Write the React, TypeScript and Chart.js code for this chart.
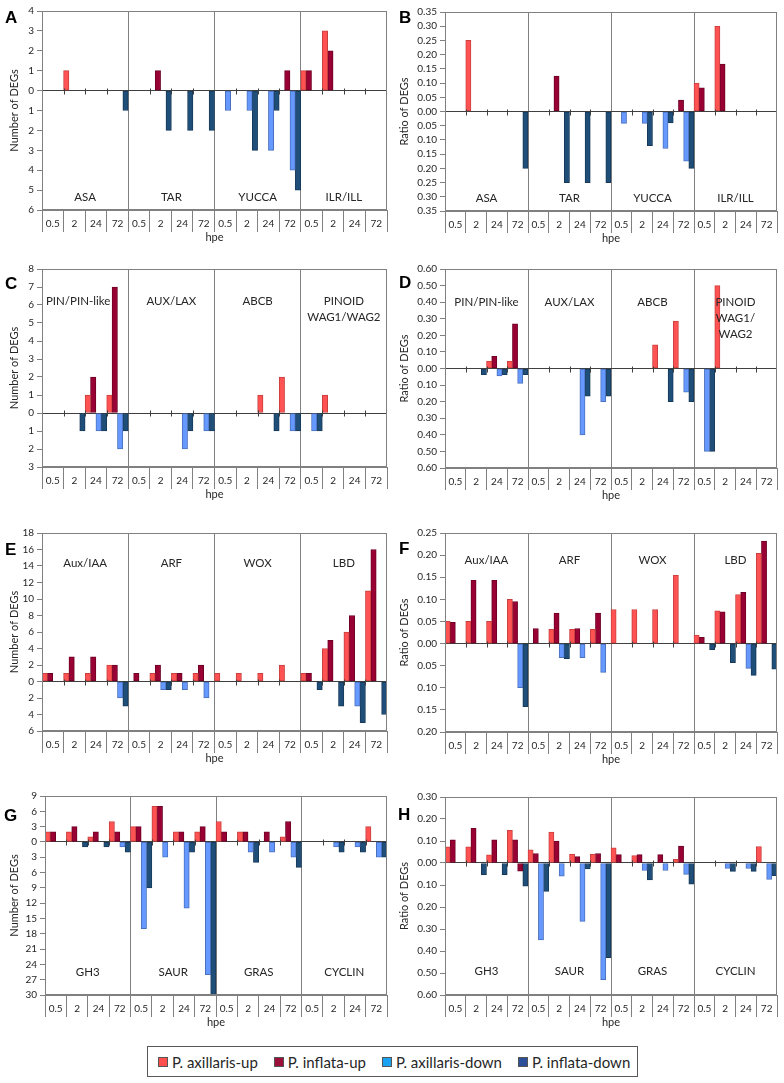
import { useEffect, useRef } from 'react';
import { Chart, registerables } from 'chart.js';

Chart.register(...registerables);
Chart.defaults.font.family = 'Lato, "Open Sans", sans-serif';

// Sampling times (hours post excision), repeated for every gene family
const HPE = ['0.5', '2', '24', '72'];

// ---- A: auxin biosynthesis, number of DEGs ----
const A_FAMILIES = ['ASA', 'TAR', 'YUCCA', 'ILR/ILL'];
const A_AX_UP = [0, 1, 0, 0, 0, 0, 0, 0, 0, 0, 0, 0, 1, 3, 0, 0];
const A_INF_UP = [0, 0, 0, 0, 0, 1, 0, 0, 0, 0, 0, 1, 1, 2, 0, 0];
const A_AX_DOWN = [0, 0, 0, 0, 0, 0, 0, 0, -1, -1, -3, -4, 0, 0, 0, 0];
const A_INF_DOWN = [0, 0, 0, -1, 0, -2, -2, -2, 0, -3, -1, -5, 0, 0, 0, 0];

// ---- B: auxin biosynthesis, ratio of DEGs ----
const B_AX_UP = [0, 0.25, 0, 0, 0, 0, 0, 0, 0, 0, 0, 0, 0.1, 0.3, 0, 0];
const B_INF_UP = [0, 0, 0, 0, 0, 0.125, 0, 0, 0, 0, 0, 0.04, 0.083, 0.167, 0, 0];
const B_AX_DOWN = [0, 0, 0, 0, 0, 0, 0, 0, -0.042, -0.042, -0.13, -0.175, 0, 0, 0, 0];
const B_INF_DOWN = [0, 0, 0, -0.2, 0, -0.25, -0.25, -0.25, 0, -0.12, -0.04, -0.2, 0, 0, 0, 0];

// ---- C: auxin transport, number of DEGs ----
const C_FAMILIES = ['PIN/PIN-like', 'AUX/LAX', 'ABCB', ['PINOID', 'WAG1/WAG2']];
const C_AX_UP = [0, 0, 1, 1, 0, 0, 0, 0, 0, 0, 1, 2, 0, 1, 0, 0];
const C_INF_UP = [0, 0, 2, 7, 0, 0, 0, 0, 0, 0, 0, 0, 0, 0, 0, 0];
const C_AX_DOWN = [0, 0, -1, -2, 0, 0, -2, -1, 0, 0, 0, -1, -1, 0, 0, 0];
const C_INF_DOWN = [0, -1, -1, -1, 0, 0, -1, -1, 0, 0, -1, -1, -1, 0, 0, 0];

// ---- D: auxin transport, ratio of DEGs ----
const D_FAMILIES = ['PIN/PIN-like', 'AUX/LAX', 'ABCB', ['PINOID', 'WAG1/', 'WAG2']];
const D_AX_UP = [0, 0, 0.045, 0.045, 0, 0, 0, 0, 0, 0, 0.143, 0.286, 0, 0.5, 0, 0];
const D_INF_UP = [0, 0, 0.074, 0.27, 0, 0, 0, 0, 0, 0, 0, 0, 0, 0, 0, 0];
const D_AX_DOWN = [0, 0, -0.045, -0.09, 0, 0, -0.4, -0.2, 0, 0, 0, -0.143, -0.5, 0, 0, 0];
const D_INF_DOWN = [0, -0.037, -0.037, -0.037, 0, 0, -0.167, -0.167, 0, 0, -0.2, -0.2, -0.5, 0, 0, 0];

// ---- E: transcription factors, number of DEGs ----
const E_FAMILIES = ['Aux/IAA', 'ARF', 'WOX', 'LBD'];
const E_AX_UP = [1, 1, 1, 2, 0, 1, 1, 1, 1, 1, 1, 2, 1, 4, 6, 11];
const E_INF_UP = [1, 3, 3, 2, 1, 2, 1, 2, 0, 0, 0, 0, 1, 5, 8, 16];
const E_AX_DOWN = [0, 0, 0, -2, 0, -1, -1, -2, 0, 0, 0, 0, 0, 0, -3, 0];
const E_INF_DOWN = [0, 0, 0, -3, 0, -1, 0, 0, 0, 0, 0, 0, -1, -3, -5, -4];

// ---- F: transcription factors, ratio of DEGs ----
const F_AX_UP = [0.05, 0.05, 0.05, 0.1, 0, 0.032, 0.032, 0.032, 0.077, 0.077, 0.077, 0.154, 0.019, 0.074, 0.111, 0.204];
const F_INF_UP = [0.048, 0.143, 0.143, 0.095, 0.034, 0.069, 0.034, 0.069, 0, 0, 0, 0, 0.014, 0.072, 0.116, 0.232];
const F_AX_DOWN = [0, 0, 0, -0.1, 0, -0.032, -0.032, -0.065, 0, 0, 0, 0, 0, 0, -0.056, 0];
const F_INF_DOWN = [0, 0, 0, -0.143, 0, -0.034, 0, 0, 0, 0, 0, 0, -0.014, -0.043, -0.072, -0.058];

// ---- G: auxin-responsive genes, number of DEGs ----
const G_FAMILIES = ['GH3', 'SAUR', 'GRAS', 'CYCLIN'];
const G_AX_UP = [2, 2, 1, 4, 3, 7, 2, 2, 4, 2, 0, 1, 0, 0, 0, 3];
const G_INF_UP = [2, 3, 2, 2, 3, 7, 2, 3, 2, 2, 2, 4, 0, 0, 0, 0];
const G_AX_DOWN = [0, 0, 0, -1, -17, -3, -13, -26, 0, -2, -2, -3, 0, -1, -1, -3];
const G_INF_DOWN = [0, -1, -1, -2, -9, 0, -2, -30, 0, -4, 0, -5, 0, -2, -2, -3];

// ---- H: auxin-responsive genes, ratio of DEGs ----
const H_AX_UP = [0.074, 0.074, 0.037, 0.148, 0.06, 0.14, 0.04, 0.04, 0.069, 0.034, 0, 0.017, 0, 0, 0, 0.075];
const H_INF_UP = [0.105, 0.158, 0.105, 0.105, 0.043, 0.1, 0.029, 0.043, 0.038, 0.038, 0.038, 0.077, 0, 0, 0, 0];
const H_AX_DOWN = [0, 0, 0, -0.037, -0.35, -0.06, -0.265, -0.53, 0, -0.034, -0.034, -0.052, 0, -0.025, -0.025, -0.075];
const H_INF_DOWN = [0, -0.053, -0.053, -0.105, -0.129, 0, -0.027, -0.43, 0, -0.077, 0, -0.096, 0, -0.038, -0.038, -0.058];

// Series styling and legend
const SERIES = [
  { label: 'P. axillaris-up', fill: '#FF5252', stroke: '#C9403F', key: '#FF4F4F' },
  { label: 'P. inflata-up', fill: '#990033', stroke: '#6E0024', key: '#9B0F3A' },
  { label: 'P. axillaris-down', fill: '#6699FF', stroke: '#4A70BC', key: '#1BA1F2' },
  { label: 'P. inflata-down', fill: '#1F4E79', stroke: '#173A5A', key: '#2B4F99' },
];

const FRAME = '#808080';
const ZERO_LINE = '#3f3f3f';
const TEXT = '#262626';

type Family = string | string[];

interface PanelSpec {
  letter: string;
  families: Family[];
  values: number[][];
  min: number;
  max: number;
  step: number;
  decimals: number;
  yTitle: string;
  colLeft: number;
  plotTop: number;
  plotHeight: number;
  axisWidth: number;
  padRight: number;
  titlePad: number;
  familyY: number;
  familyDx?: number[];
  letterX: number;
  letterY: number;
  recolor?: { series: number; index: number; color: string }[];
}

const LEFT = { colLeft: 0, axisWidth: 42, padRight: 5, titlePad: 8, letterX: 5 };
const RIGHT = { colLeft: 392, axisWidth: 53, padRight: 7, titlePad: 6, letterX: 399 };

const PANELS: PanelSpec[] = [
  { ...LEFT, letter: 'A', families: A_FAMILIES, values: [A_AX_UP, A_INF_UP, A_AX_DOWN, A_INF_DOWN],
    min: -6, max: 4, step: 1, decimals: 0, yTitle: 'Number of DEGs', plotTop: 10, plotHeight: 200, familyY: 186, letterY: 9 },
  { ...RIGHT, letter: 'B', families: A_FAMILIES, values: [B_AX_UP, B_INF_UP, B_AX_DOWN, B_INF_DOWN],
    min: -0.35, max: 0.35, step: 0.05, decimals: 2, yTitle: 'Ratio of DEGs', plotTop: 11, plotHeight: 200, familyY: 186, letterY: 9 },
  { ...LEFT, letter: 'C', families: C_FAMILIES, values: [C_AX_UP, C_INF_UP, C_AX_DOWN, C_INF_DOWN],
    min: -3, max: 8, step: 1, decimals: 0, yTitle: 'Number of DEGs', plotTop: 268, plotHeight: 199, familyY: 32,
    familyDx: [-7, 0, 0, 0], letterY: 275 },
  { ...RIGHT, letter: 'D', families: D_FAMILIES, values: [D_AX_UP, D_INF_UP, D_AX_DOWN, D_INF_DOWN],
    min: -0.6, max: 0.6, step: 0.1, decimals: 2, yTitle: 'Ratio of DEGs', plotTop: 268, plotHeight: 200, familyY: 33, letterY: 274 },
  { ...LEFT, letter: 'E', families: E_FAMILIES, values: [E_AX_UP, E_INF_UP, E_AX_DOWN, E_INF_DOWN],
    min: -6, max: 18, step: 2, decimals: 0, yTitle: 'Number of DEGs', plotTop: 532, plotHeight: 199, familyY: 30, letterY: 541 },
  { ...RIGHT, letter: 'F', families: E_FAMILIES, values: [F_AX_UP, F_INF_UP, F_AX_DOWN, F_INF_DOWN],
    min: -0.2, max: 0.25, step: 0.05, decimals: 2, yTitle: 'Ratio of DEGs', plotTop: 532, plotHeight: 200, familyY: 27, letterY: 540 },
  { ...LEFT, axisWidth: 45, letterX: 4, letter: 'G', families: G_FAMILIES, values: [G_AX_UP, G_INF_UP, G_AX_DOWN, G_INF_DOWN],
    min: -30, max: 9, step: 3, decimals: 0, yTitle: 'Number of DEGs', plotTop: 795, plotHeight: 200, familyY: 176, letterY: 807 },
  { ...RIGHT, letterX: 398, letter: 'H', families: G_FAMILIES, values: [H_AX_UP, H_INF_UP, H_AX_DOWN, H_INF_DOWN],
    min: -0.6, max: 0.3, step: 0.1, decimals: 2, yTitle: 'Ratio of DEGs', plotTop: 796, plotHeight: 199, familyY: 174, letterY: 806,
    recolor: [{ series: 2, index: 3, color: '#990033' }] },
];

const PAD_TOP = 8;
const X_AXIS_HEIGHT = 40;
const PAD_BOTTOM = 4;

// Frame, zero-line cross ticks and gene-family captions
const panelDecor = {
  id: 'panelDecor',
  afterDatasetsDraw(chart: any, _args: any, opts: any) {
    const { ctx, chartArea: a } = chart;
    const x = chart.scales.x;
    const y = chart.scales.y;
    ctx.save();
    ctx.lineWidth = 1;

    const y0 = Math.round(y.getPixelForValue(0)) + 0.5;
    const n = chart.data.labels.length;
    ctx.strokeStyle = ZERO_LINE;
    ctx.beginPath();
    for (let i = 1; i < n; i++) {
      if (i % 4 === 0) continue;
      const px = Math.round((x.getPixelForValue(i - 1) + x.getPixelForValue(i)) / 2) + 0.5;
      ctx.moveTo(px, y0 - 3);
      ctx.lineTo(px, y0 + 3);
    }
    ctx.stroke();

    ctx.strokeStyle = FRAME;
    const l = Math.round(a.left) + 0.5;
    const t = Math.round(a.top) + 0.5;
    const r = Math.round(a.right) - 0.5;
    const b = Math.round(a.bottom) - 0.5;
    ctx.strokeRect(l, t, r - l, b - t);

    ctx.fillStyle = TEXT;
    ctx.font = '11.5px Lato, "Open Sans", sans-serif';
    ctx.textAlign = 'center';
    ctx.textBaseline = 'middle';
    (opts.families as Family[]).forEach((fam, f) => {
      const dx = opts.familyDx ? opts.familyDx[f] : 0;
      const cx = (x.getPixelForValue(f * 4) + x.getPixelForValue(f * 4 + 3)) / 2 + dx;
      const lines = Array.isArray(fam) ? fam : [fam];
      lines.forEach((line, k) => ctx.fillText(line, cx, a.top + opts.familyY + k * 16));
    });
    ctx.restore();
  },
};

function PanelChart({ spec }: { spec: PanelSpec }) {
  const ref = useRef<HTMLCanvasElement | null>(null);
  const height = PAD_TOP + spec.plotHeight + X_AXIS_HEIGHT + PAD_BOTTOM;

  useEffect(() => {
    if (!ref.current) return;
    const labels = spec.families.flatMap(() => HPE);
    const chart = new Chart(ref.current, {
      type: 'bar',
      data: {
        labels,
        datasets: SERIES.map((s, k) => {
          const overrides = (spec.recolor || []).filter((o) => o.series === k);
          return {
            label: s.label,
            data: spec.values[k].map((v) => (v === 0 ? null : v)),
            backgroundColor: overrides.length
              ? (c: any) => overrides.find((o) => o.index === c.dataIndex)?.color ?? s.fill
              : s.fill,
            borderColor: overrides.length
              ? (c: any) => (overrides.find((o) => o.index === c.dataIndex) ? '#6E0024' : s.stroke)
              : s.stroke,
            borderWidth: 1,
            borderSkipped: false,
            barPercentage: 1,
            categoryPercentage: 1,
          };
        }),
      },
      options: {
        responsive: false,
        animation: false,
        devicePixelRatio: 1,
        layout: { padding: { top: PAD_TOP, left: 0, right: spec.padRight, bottom: PAD_BOTTOM } },
        plugins: {
          legend: { display: false },
          tooltip: { enabled: false },
          panelDecor: { families: spec.families, familyY: spec.familyY, familyDx: spec.familyDx },
        } as any,
        scales: {
          x: {
            offset: true,
            grid: {
              offset: true,
              color: (c: any) => (c.index !== undefined && c.index % 4 === 0 ? FRAME : 'transparent'),
              tickColor: FRAME,
              tickLength: 22,
              lineWidth: 1,
            },
            border: { display: true, color: FRAME },
            ticks: { autoSkip: false, maxRotation: 0, minRotation: 0, padding: -14, color: TEXT, font: { size: 10 } },
            title: { display: true, text: 'hpe', color: TEXT, font: { size: 11 }, padding: { top: 0, bottom: 6 } },
            afterFit: (s: any) => {
              s.height = X_AXIS_HEIGHT;
            },
          },
          y: {
            min: spec.min,
            max: spec.max,
            grid: {
              color: (c: any) => (c.tick && Math.abs(c.tick.value) < 1e-9 ? ZERO_LINE : 'transparent'),
              tickColor: FRAME,
              tickLength: 5,
            },
            border: { display: true, color: FRAME },
            ticks: {
              stepSize: spec.step,
              autoSkip: false,
              maxTicksLimit: 30,
              padding: 3,
              color: TEXT,
              font: { size: 10 },
              callback: (v: any) => Math.abs(Number(v)).toFixed(spec.decimals),
            },
            title: { display: true, text: spec.yTitle, color: TEXT, font: { size: 11 }, padding: { top: spec.titlePad, bottom: 0 } },
            afterFit: (s: any) => {
              s.width = spec.axisWidth;
            },
          },
        },
      } as any,
      plugins: [panelDecor],
    });
    return () => chart.destroy();
  }, [spec]);

  return (
    <>
      <canvas
        ref={ref}
        width={392}
        height={height}
        style={{ position: 'absolute', left: spec.colLeft, top: spec.plotTop - PAD_TOP, width: 392, height }}
      />
      <div
        style={{
          position: 'absolute',
          left: spec.letterX,
          top: spec.letterY,
          font: 'bold 17px "Liberation Sans", Arial, sans-serif',
          lineHeight: '17px',
          color: '#000',
        }}
      >
        {spec.letter}
      </div>
    </>
  );
}

export default function App() {
  return (
    <div
      style={{
        position: 'absolute',
        left: 0,
        top: 0,
        width: 784,
        height: 1083,
        overflow: 'hidden',
        background: '#fff',
      }}
    >
      {PANELS.map((p) => (
        <PanelChart key={p.letter} spec={p} />
      ))}
      <div
        style={{
          position: 'absolute',
          left: 147,
          top: 1046,
          width: 491,
          height: 31,
          boxSizing: 'border-box',
          border: '1px solid #595959',
          display: 'flex',
          alignItems: 'center',
          paddingLeft: 10,
          gap: 16,
          font: '15px Lato, "Open Sans", sans-serif',
          color: TEXT,
        }}
      >
        {SERIES.map((s) => (
          <span key={s.label} style={{ display: 'inline-flex', alignItems: 'center', gap: 4, whiteSpace: 'nowrap' }}>
            <span style={{ display: 'inline-block', width: 8, height: 8, background: s.key, border: '1px solid #555' }} />
            {s.label}
          </span>
        ))}
      </div>
    </div>
  );
}
